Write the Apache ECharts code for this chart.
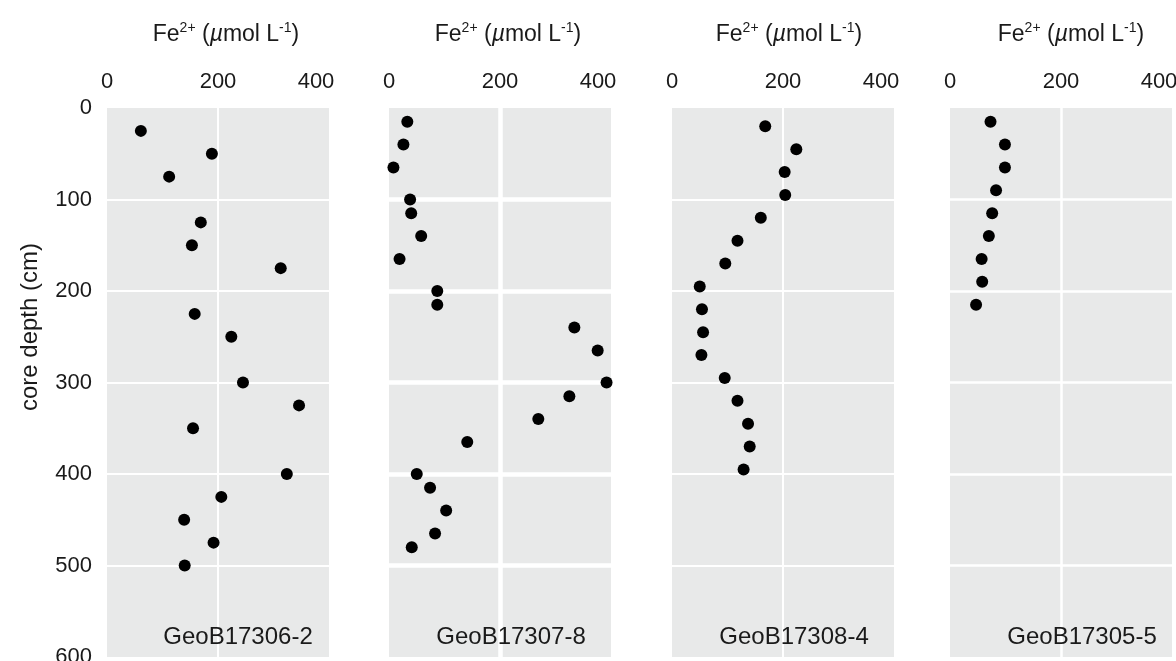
<!DOCTYPE html>
<html>
<head>
<meta charset="utf-8">
<script src="https://cdn.jsdelivr.net/npm/echarts@6/dist/echarts.min.js"></script>
<style>
  html, body { margin: 0; padding: 0; background: #fff; }
  #chart { width: 1176px; height: 661px; }
</style>
</head>
<body>
<div id="chart"></div>
<script>
// core names
var cores = ['GeoB17306-2', 'GeoB17307-8', 'GeoB17308-4', 'GeoB17305-5'];

// depth (cm) and Fe2+ (umol/L) per core
var depth1 = [25, 50, 75, 125, 150, 175, 225, 250, 300, 325, 350, 400, 425, 450, 475, 500];
var fe1 = [61, 189, 112, 169, 153, 313, 158, 224, 245, 346, 155, 324, 206, 139, 192, 140];

var depth2 = [15, 40, 65, 100, 115, 140, 165, 200, 215, 240, 265, 300, 315, 340, 365, 400, 415, 440, 465, 480];
var fe2 = [33, 26, 8, 38, 40, 58, 19, 87, 87, 334, 376, 392, 325, 269, 141, 50, 74, 103, 83, 41];

var depth3 = [20, 45, 70, 95, 120, 145, 170, 195, 220, 245, 270, 295, 320, 345, 370, 395];
var fe3 = [168, 224, 203, 204, 160, 118, 96, 50, 54, 56, 53, 95, 118, 137, 140, 129];

var depth4 = [15, 40, 65, 90, 115, 140, 165, 190, 215];
var fe4 = [73, 99, 99, 83, 76, 70, 57, 58, 47];

var depths = [depth1, depth2, depth3, depth4];
var fes = [fe1, fe2, fe3, fe4];

// axis ticks
var xTicks = [0, 200, 400];
var yTicks = [0, 100, 200, 300, 400, 500, 600];

var font = '"Liberation Sans", Arial, Helvetica, sans-serif';
var ink = '#1a1a1a';

var lefts = [107, 389, 672, 950];
var gridLineW = [2, 4.5, 2, 2.5];
var titleX = [221, 503, 784, 1066];
var labelX = [233, 506, 789, 1077];

var grids = [], xAxes = [], yAxes = [], series = [], titles = [];

for (var k = 0; k < 4; k++) {
    grids.push({
        left: lefts[k], top: 108, width: 222, height: 549,
        outerBoundsMode: 'none',
        show: true, backgroundColor: '#e8e9e9', borderWidth: 0
    });
    xAxes.push({
        gridIndex: k, type: 'value', position: 'top',
        min: xTicks[0], max: xTicks[xTicks.length - 1], interval: xTicks[1] - xTicks[0],
        axisLine: { show: false }, axisTick: { show: false },
        axisLabel: {
            margin: 15, fontSize: 22, color: ink, fontFamily: font,
            formatter: function (v) { return v === 400 ? '{m|400}' : '' + v; },
            rich: { m: { fontSize: 22, color: ink, fontFamily: font, padding: [0, 26, 0, 0] } }
        },
        splitLine: { show: true, showMinLine: false, showMaxLine: false, lineStyle: { color: '#ffffff', width: gridLineW[k] } }
    });
    yAxes.push({
        gridIndex: k, type: 'value', inverse: true,
        min: yTicks[0], max: yTicks[yTicks.length - 1], interval: yTicks[1] - yTicks[0],
        axisLine: { show: false }, axisTick: { show: false },
        axisLabel: { show: k === 0, margin: 15, fontSize: 22, color: ink, fontFamily: font },
        splitLine: { show: true, showMinLine: false, showMaxLine: false, lineStyle: { color: '#ffffff', width: gridLineW[k] } }
    });
    var pts = [];
    for (var i = 0; i < depths[k].length; i++) {
        pts.push([fes[k][i], depths[k][i]]);
    }
    series.push({
        type: 'scatter', name: cores[k], xAxisIndex: k, yAxisIndex: k,
        symbol: 'circle', symbolSize: 12,
        itemStyle: { color: '#000000', opacity: 1 },
        data: pts
    });
    // axis title with superscripts
    titles.push({
        text: '{a|Fe}{s|2+}{a| (}{i|\u00b5}{a|mol L}{s|-1}{a|)}',
        left: titleX[k], top: 16, textAlign: 'center',
        textStyle: {
            fontWeight: 'normal',
            rich: {
                a: { fontSize: 23, lineHeight: 28, fontWeight: 'normal', color: ink, fontFamily: font },
                i: { fontSize: 23, lineHeight: 28, fontWeight: 'normal', color: ink, fontFamily: font, fontStyle: 'italic' },
                s: { fontSize: 14, lineHeight: 24, fontWeight: 'normal', color: ink, fontFamily: font, verticalAlign: 'top' }
            }
        }
    });
    // core label in panel
    titles.push({
        text: cores[k],
        left: labelX[k], top: 619, textAlign: 'center',
        textStyle: { fontSize: 24, lineHeight: 26, fontWeight: 'normal', color: ink, fontFamily: font }
    });
}

var option = {
    animation: false,
    backgroundColor: '#ffffff',
    title: titles,
    grid: grids,
    xAxis: xAxes,
    yAxis: yAxes,
    series: series,
    graphic: [{
        type: 'text',
        x: 30, y: 327, rotation: Math.PI / 2,
        style: {
            text: 'core depth (cm)', fontSize: 24, fontFamily: font, fill: ink,
            align: 'center', verticalAlign: 'middle'
        }
    }]
};

var myChart = echarts.init(document.getElementById('chart'));
myChart.setOption(option);
</script>
</body>
</html>
